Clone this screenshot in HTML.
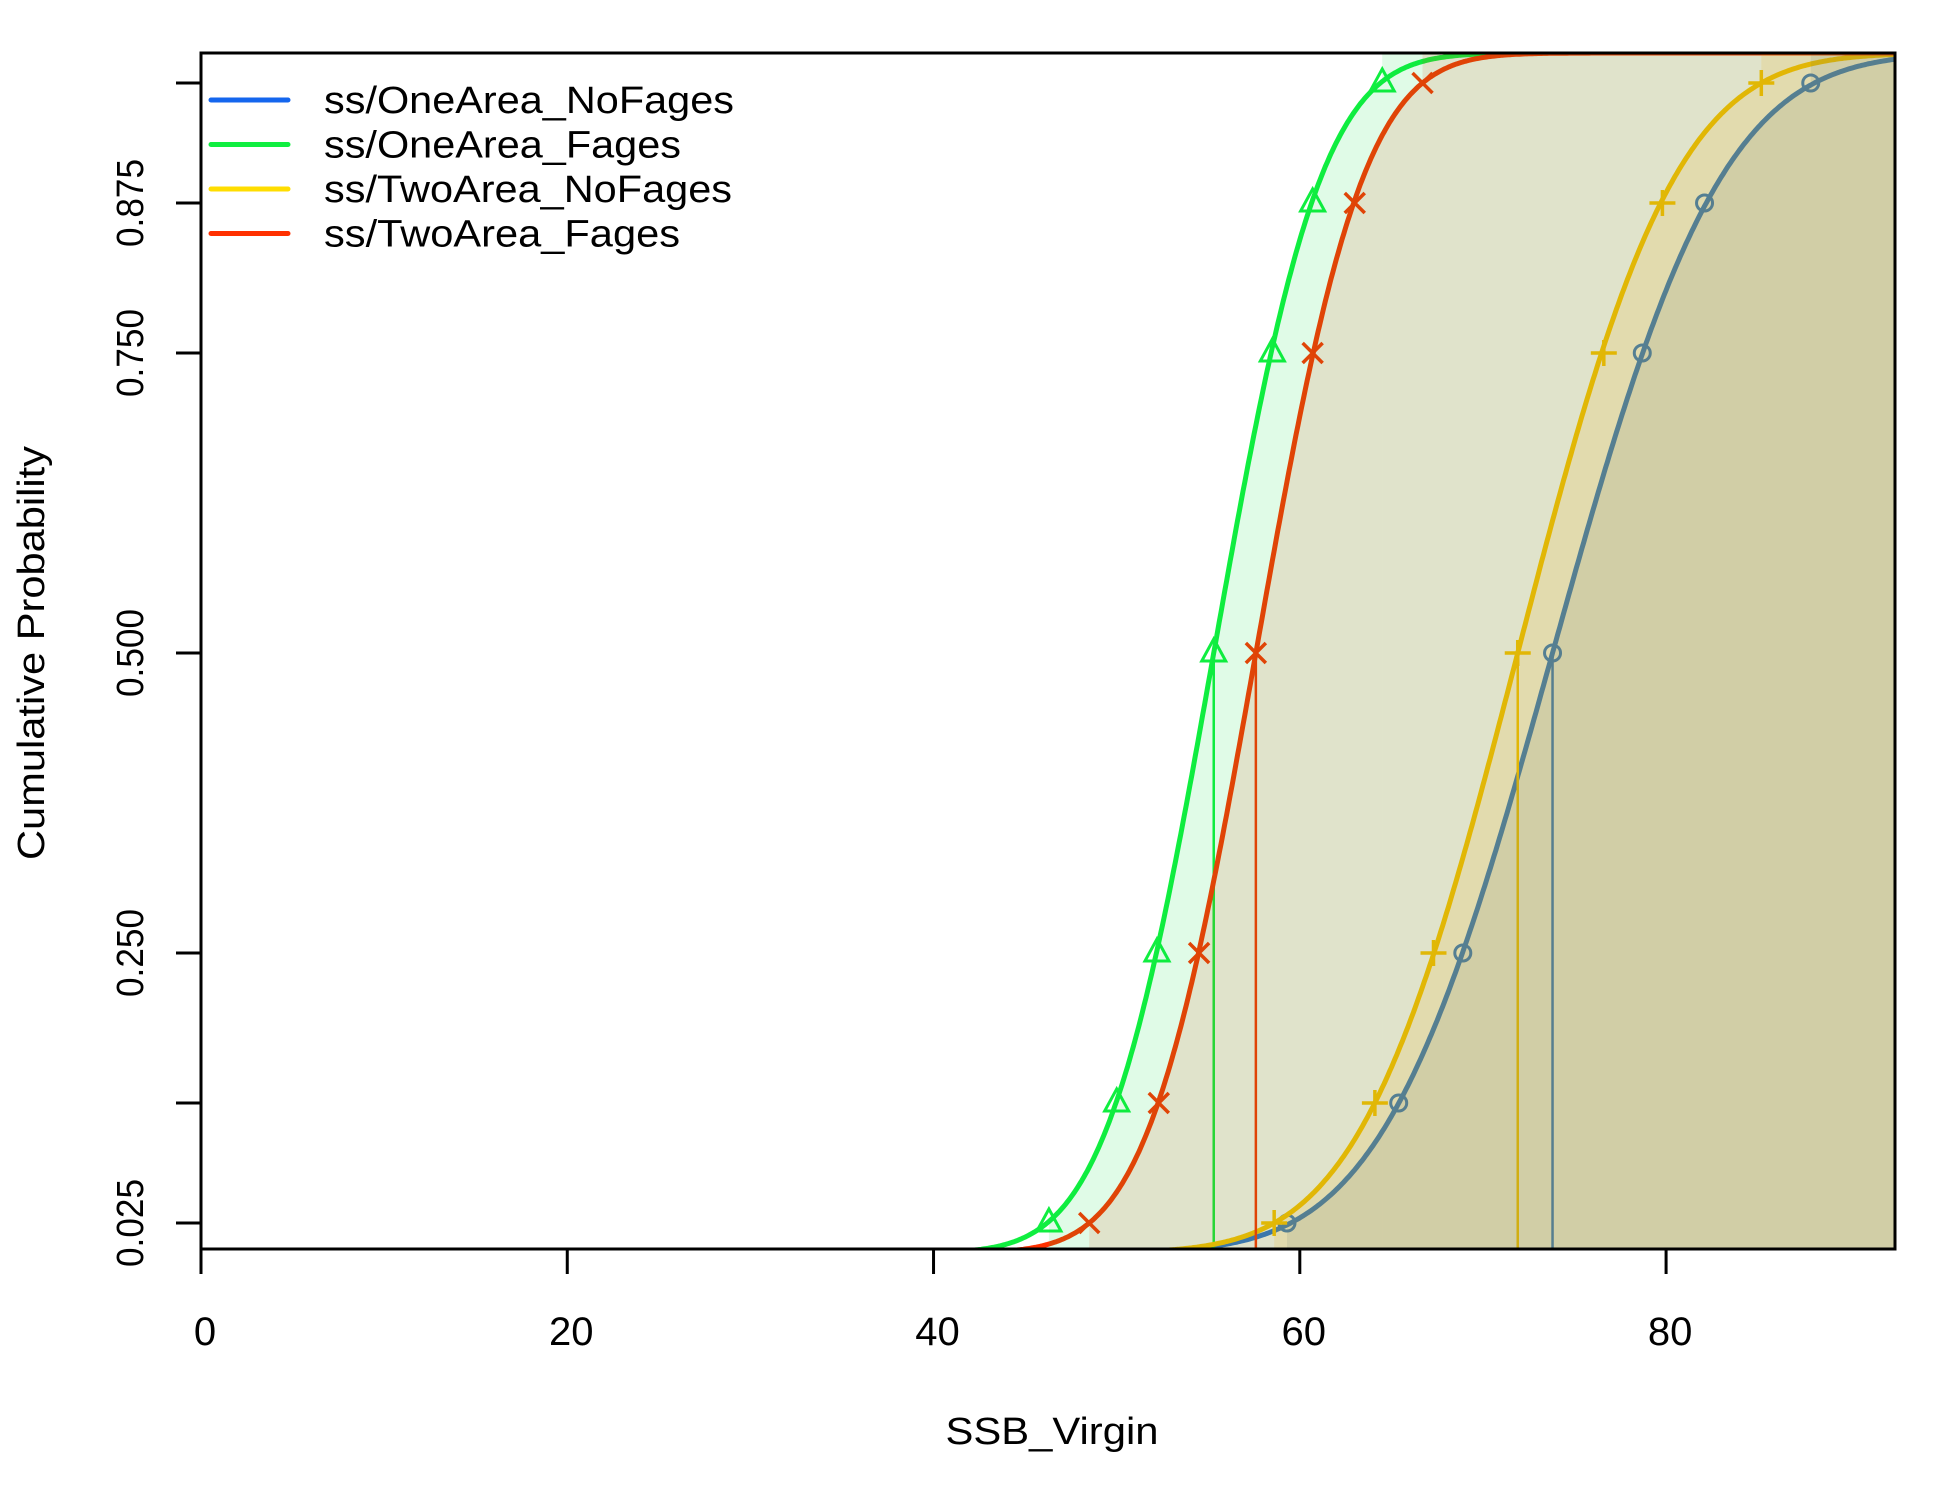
<!DOCTYPE html>
<html><head><meta charset="utf-8"><style>
html,body{margin:0;padding:0;background:#fff;}
svg text{font-family:"Liberation Sans",Arial,sans-serif;fill:#000;}
</style></head><body>
<svg id="chart" width="1950" height="1500" viewBox="0 0 1950 1500" xmlns="http://www.w3.org/2000/svg">
<defs><clipPath id="plotclip"><rect x="201" y="53" width="1694" height="1196"/></clipPath></defs>
<g id="lines" clip-path="url(#plotclip)"></g>
<g id="fills" clip-path="url(#plotclip)"></g>
<g id="axes"></g>
<rect x="201" y="53" width="1694" height="1196" fill="none" stroke="#000" stroke-width="3"/>
<text x="1052" y="1444" font-size="38" text-anchor="middle" textLength="213" lengthAdjust="spacingAndGlyphs">SSB_Virgin</text>
<text transform="translate(44,653) rotate(-90)" font-size="38" text-anchor="middle" textLength="414" lengthAdjust="spacingAndGlyphs">Cumulative Probability</text>
<g id="legend"></g>
</svg>
<script>
const seriesNames = ["ss/OneArea_NoFages","ss/OneArea_Fages","ss/TwoArea_NoFages","ss/TwoArea_Fages"];
const probs = [0.025,0.125,0.25,0.5,0.75,0.875,0.975];
const qBlue   = [59.3,65.4,68.9,73.8,78.7,82.1,87.9];
const qGreen  = [46.3,50.0,52.2,55.3,58.5,60.7,64.5];
const qYellow = [58.6,64.1,67.3,71.9,76.6,79.8,85.2];
const qRed    = [48.5,52.3,54.5,57.6,60.7,63.0,66.7];
const xTicks = [0,20,40,60,80];
const yTicks = [0.025,0.125,0.25,0.5,0.75,0.875,0.975];
const yTickLabels = ["0.025","","0.250","0.500","0.750","0.875",""];

const NS="http://www.w3.org/2000/svg";
const X0=0,X1=92.5,PX0=201,PX1=1895,PY0=1249,PY1=53;
const xs=v=>PX0+(v-X0)/(X1-X0)*(PX1-PX0);
const ys=p=>1253-p*1200;
function mk(tag,attrs,parent){const e=document.createElementNS(NS,tag);for(const k in attrs)e.setAttribute(k,attrs[k]);parent.appendChild(e);return e;}
function erf(x){const s=Math.sign(x);x=Math.abs(x);const t=1/(1+0.3275911*x);const y=1-(((((1.061405429*t-1.453152027)*t)+1.421413741)*t-0.284496736)*t+0.254829592)*t*Math.exp(-x*x);return s*y;}
function cdf(q,x){const m=q[3],sd=(q[6]-q[0])/3.92;return 0.5*(1+erf((x-m)/(sd*Math.SQRT2)));}

const series=[
 {q:qBlue,line:"#2a74d8",leg:"#1466ee",fill:"rgba(60,100,160,0.13)",mk:"circle"},
 {q:qGreen,line:"#10ee40",leg:"#10ee40",fill:"rgba(0,220,60,0.12)",mk:"tri"},
 {q:qYellow,line:"#ffc800",leg:"#ffdd00",fill:"rgba(240,190,0,0.14)",mk:"plus"},
 {q:qRed,line:"#ff3000",leg:"#ff3000",fill:"rgba(230,60,0,0.12)",mk:"x"}
];
const gL=document.getElementById('lines'),gF=document.getElementById('fills'),gA=document.getElementById('axes'),gLeg=document.getElementById('legend');
const legW=[410,357,408,356];

series.forEach((s,i)=>{
  const q=s.q;
  let d="";
  for(let x=X0;x<=X1;x+=0.1){d+=(d?"L":"M")+xs(x).toFixed(1)+","+ys(cdf(q,x)).toFixed(1);}
  const c=mk('path',{d:d,fill:"none",stroke:s.line,"stroke-width":5,"stroke-linejoin":"round"},gL);
  
  
  const ml=mk('line',{x1:xs(q[3]),x2:xs(q[3]),y1:PY0,y2:ys(0.5),stroke:s.line,"stroke-width":2.5},gL);
  
  
  probs.forEach((p,j)=>{
    const cx=xs(q[j]),cy=ys(p);let m;
    if(s.mk==="circle") m=mk('circle',{cx:cx,cy:cy,r:8,fill:"none",stroke:s.line,"stroke-width":3},gL);
    else if(s.mk==="tri") m=mk('path',{d:`M${cx},${cy-14}L${cx+12},${cy+8}L${cx-12},${cy+8}Z`,fill:"none",stroke:s.line,"stroke-width":3},gL);
    else if(s.mk==="plus") m=mk('path',{d:`M${cx-13},${cy}H${cx+13}M${cx},${cy-13}V${cy+13}`,stroke:s.line,"stroke-width":3.5},gL);
    else m=mk('path',{d:`M${cx-10},${cy-10}L${cx+10},${cy+10}M${cx-10},${cy+10}L${cx+10},${cy-10}`,stroke:s.line,"stroke-width":3.5},gL);
    
    
  });
  let fd=`M${xs(q[0])},${PY0}`;
  for(let x=q[0];x<=q[6];x+=0.1) fd+=`L${xs(x).toFixed(1)},${ys(cdf(q,x)).toFixed(1)}`;
  fd+=`L${xs(q[6])},${ys(cdf(q,q[6]))}L${xs(q[6])},${PY0}Z`;
  const f=mk('path',{d:fd,fill:s.fill},gF);
  
  
  const r=mk('rect',{x:xs(q[6]),y:PY1,width:PX1-xs(q[6]),height:PY0-PY1,fill:s.fill},gF);
  
  
  const ly=100+i*44.5;
  const ll=mk('line',{x1:211,x2:288,y1:ly,y2:ly,stroke:s.leg,"stroke-width":5,"stroke-linecap":"round"},gLeg);
  
  
  const lt=mk('text',{x:324,y:ly+13,"font-size":38,textLength:legW[i],lengthAdjust:"spacingAndGlyphs"},gLeg);lt.textContent=seriesNames[i];
  
  
});

xTicks.forEach(v=>{
  const t=mk('line',{x1:xs(v),x2:xs(v),y1:PY0,y2:PY0+25,stroke:"#000","stroke-width":3},gA);
  
  
  const l=mk('text',{x:xs(v)+4,y:1345,"font-size":40,"text-anchor":"middle"},gA);l.textContent=v;
  
  
});
yTicks.forEach((p,j)=>{
  const t=mk('line',{x1:PX0-25,x2:PX0,y1:ys(p),y2:ys(p),stroke:"#000","stroke-width":3},gA);
  
  
  if(yTickLabels[j]){
    const l=mk('text',{transform:`translate(143,${ys(p)}) rotate(-90)`,"font-size":38,"text-anchor":"middle",textLength:88,lengthAdjust:"spacingAndGlyphs"},gA);l.textContent=yTickLabels[j];
    
    
  }
});
</script>
</body></html>
